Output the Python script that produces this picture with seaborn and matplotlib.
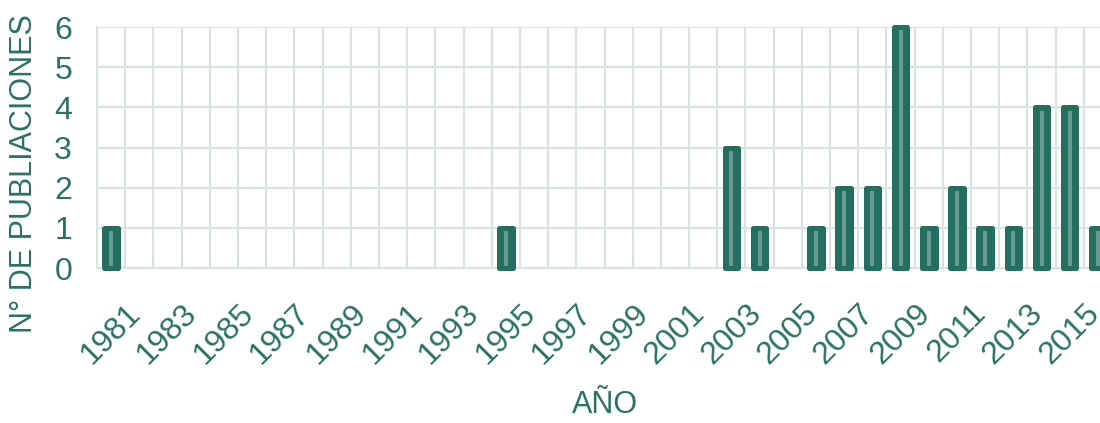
import numpy as np
import pandas as pd
import matplotlib.pyplot as plt
import seaborn as sns

# publications per year (the last column is cut by the right edge in the reference)
years = list(range(1981, 2017))
counts = [1, 0, 0, 0, 0, 0, 0, 0, 0, 0, 0, 0, 0, 0, 1, 0, 0, 0, 0, 0, 0, 0,
          3, 1, 0, 1, 2, 2, 6, 1, 2, 1, 1, 4, 4, 1]
tick_years = list(range(1981, 2016, 2))

df = pd.DataFrame({'year': years, 'count': counts})

green = '#246F60'
text_green = '#2A7263'
stripe = '#6A9C92'
grid_col = '#D6E3DF'

sns.set_theme(style='white')
plt.rcParams['font.family'] = ['Liberation Sans', 'DejaVu Sans']

fig = plt.figure(figsize=(11, 4.23), dpi=100)
ax = fig.add_axes([97 / 1100, (423 - 268) / 423, 1015 / 1100, 241 / 423])

sns.barplot(data=df, x='year', y='count', color=green, saturation=1,
            width=0.48, ax=ax, zorder=3)

# rounded tops and the light stripe inside each bar
for p in ax.patches:
    h = p.get_height()
    if h <= 0:
        p.set_visible(False)
        continue
    p.set_edgecolor(green)
    p.set_linewidth(3.6)
    p.set_joinstyle('round')
    p.set_clip_on(False)
    cx = p.get_x() + p.get_width() / 2
    ax.vlines(cx, 0.06, h - 0.08, color=stripe, linewidth=2.8, zorder=4)

ax.set_xlim(-0.5, len(years) - 0.5)
ax.set_ylim(0, 6)
ax.set_yticks(range(0, 7))

# category labels every other year, grid at category boundaries
ax.set_xticks([years.index(y) for y in tick_years])
ax.set_xticklabels([str(y) for y in tick_years], rotation=45, ha='center')
ax.set_xticks(np.arange(-0.5, len(years), 1), minor=True)
ax.grid(which='minor', axis='x', color=grid_col, linewidth=1.5, zorder=0)
ax.grid(which='major', axis='y', color=grid_col, linewidth=1.5, zorder=0)
ax.grid(which='major', axis='x', visible=False)
ax.set_axisbelow(True)

ax.tick_params(axis='x', which='both', length=0, pad=22, labelsize=23,
               labelcolor=text_green)
ax.tick_params(axis='y', length=0, pad=18, labelsize=23, labelcolor=text_green)

for side in ['top', 'right']:
    ax.spines[side].set_visible(False)
for side in ['left', 'bottom']:
    ax.spines[side].set_color(grid_col)
    ax.spines[side].set_linewidth(1.5)

ax.set_xlabel('AÑO', fontsize=22, color=text_green, labelpad=14)
ax.set_ylabel('N° DE PUBLIACIONES', fontsize=22, color=text_green)
ax.yaxis.set_label_coords(-0.057, 0.39)

plt.savefig('out.png', dpi=100)
